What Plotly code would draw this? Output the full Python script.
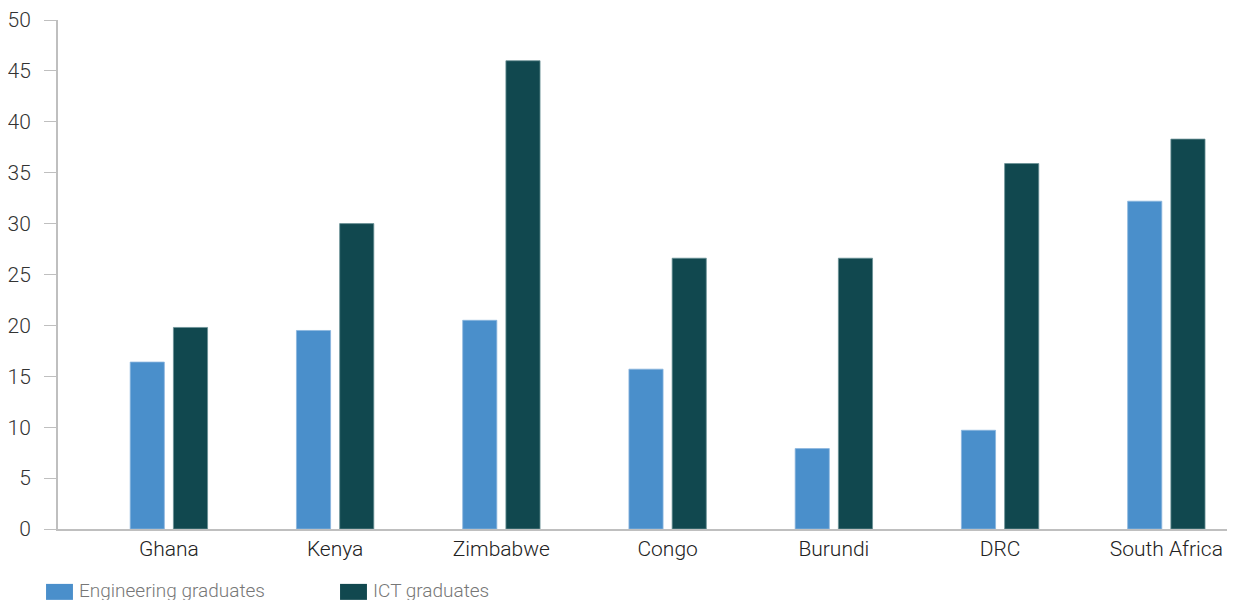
import plotly.graph_objects as go

countries = ["Ghana", "Kenya", "Zimbabwe", "Congo", "Burundi", "DRC", "South Africa"]
engineering = [16.4, 19.5, 20.5, 15.7, 7.9, 9.7, 32.2]
ict = [19.8, 30.0, 46.0, 26.6, 26.6, 35.9, 38.3]
y_ticks = [0, 5, 10, 15, 20, 25, 30, 35, 40, 45, 50]

BLUE = "#4a8fcb"
DARK = "#11484f"
FONT = "Roboto"

W, H = 1227, 592
L, T, B_AX = 46, 11, 521  # plot left, top, x-axis y (figure coords)
PW = W - L
PH = B_AX - T

fig = go.Figure()
fig.add_trace(go.Bar(x=countries, y=engineering, name="Engineering graduates",
                     marker=dict(color=BLUE, line=dict(color="#8cb6de", width=0.8))))
fig.add_trace(go.Bar(x=countries, y=ict, name="ICT graduates",
                     marker=dict(color=DARK, line=dict(color="#6a9196", width=0.8))))

fig.update_layout(
    width=W, height=H,
    margin=dict(l=L, r=0, t=T, b=H - B_AX, pad=0),
    paper_bgcolor="white", plot_bgcolor="white",
    barmode="group", bargap=0.48, bargroupgap=0.21,
    showlegend=False,
    font=dict(family=FONT, size=18, color="#333333", weight=300),
)
fig.update_xaxes(
    range=[-0.667, 6.413], showline=True, linecolor="#bfbfbf", linewidth=2,
    ticks="", showgrid=False, tickfont=dict(family=FONT, size=21, color="#222222", weight=300),
    ticklabelstandoff=0,
)
fig.update_yaxes(
    range=[0, 50], tickvals=y_ticks, showline=True, linecolor="#bfbfbf", linewidth=2,
    ticks="outside", ticklen=12, tickcolor="#bfbfbf", tickwidth=1,
    showgrid=False, zeroline=False, tickfont=dict(family=FONT, size=21, color="#333333", weight=300),
    ticklabelstandoff=9, ticklabeloverflow="allow",
)

# custom legend at the bottom
legend_items = [("Engineering graduates", BLUE, 34), ("ICT graduates", DARK, 329)]
for name, col, x0 in legend_items:
    fig.add_shape(type="rect", xref="paper", yref="paper",
                  x0=(x0 - L) / PW, x1=(x0 + 27 - L) / PW,
                  y0=(B_AX - 592) / PH, y1=(B_AX - 576) / PH,
                  fillcolor=col, line=dict(width=0))
    fig.add_annotation(text=name, xref="paper", yref="paper",
                       x=(x0 + 31 - L) / PW, y=(B_AX - 583) / PH,
                       xanchor="left", yanchor="middle", showarrow=False,
                       font=dict(family=FONT, size=19, color="#777777", weight=300))

fig.write_html("out.html")
